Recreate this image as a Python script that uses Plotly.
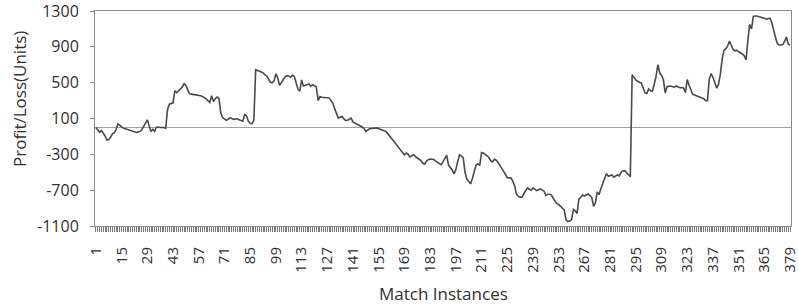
import plotly.graph_objects as go

# Profit/Loss (units) per match instance
profit_loss = [
    0, -30, -55, -35, -60, -95, -140, -135, -110, -70,
    -60, -20, 40, 20, 5, -10, -15, -22, -25, -35,
    -40, -50, -55, -50, -45, -25, 10, 60, 85, 15,
    -45, -20, -45, 5, 0, 0, 0, 0, -10, 200,
    260, 265, 275, 410, 390, 410, 430, 450, 490, 470,
    420, 375, 372, 368, 370, 362, 360, 355, 345, 335,
    320, 300, 280, 355, 290, 320, 340, 325, 160, 110,
    95, 80, 90, 108, 100, 90, 95, 97, 85, 78,
    70, 145, 130, 70, 45, 42, 80, 645, 640, 628,
    620, 610, 590, 575, 540, 505, 498, 520, 600, 555,
    470, 505, 540, 565, 578, 575, 560, 582, 570, 510,
    430, 405, 530, 462, 468, 478, 485, 460, 478, 465,
    455, 300, 345, 338, 335, 340, 335, 330, 300, 272,
    210, 160, 105, 115, 125, 95, 78, 80, 90, 105,
    60, 45, 38, 28, 20, 5, -10, -45, -30, -15,
    -12, -8, -10, -5, -15, -20, -32, -38, -45, -70,
    -95, -120, -140, -170, -200, -230, -255, -285, -305, -285,
    -300, -330, -315, -305, -325, -345, -355, -370, -400, -410,
    -375, -360, -352, -355, -358, -375, -390, -405, -415, -385,
    -350, -310, -420, -450, -475, -520, -470, -380, -305, -320,
    -340, -500, -580, -600, -630, -570, -500, -420, -405, -425,
    -280, -285, -300, -318, -335, -370, -385, -355, -365, -390,
    -420, -450, -490, -525, -560, -565, -562, -600, -650, -745,
    -770, -778, -780, -740, -710, -675, -690, -700, -675, -690,
    -705, -695, -686, -700, -710, -760, -745, -745, -752, -790,
    -820, -850, -860, -882, -900, -920, -1030, -1050, -1045, -1030,
    -915, -930, -960, -800, -780, -755, -765, -750, -742, -760,
    -780, -880, -840, -720, -750, -680, -620, -560, -515, -545,
    -535, -530, -555, -540, -530, -540, -500, -485, -482, -505,
    -530, -550, 590, 555, 530, 515, 505, 495, 440, 385,
    378, 430, 410, 405, 480, 570, 700, 610, 580, 535,
    385, 455, 460, 462, 455, 450, 463, 455, 444, 445,
    440, 390, 535, 470, 420, 370, 362, 355, 345, 332,
    330, 320, 300, 300, 540, 600, 560, 490, 440, 480,
    590, 760, 860, 880, 910, 965, 925, 870, 855, 862,
    845, 835, 820, 800, 755, 970, 1150, 1100, 1240, 1245,
    1245, 1236, 1232, 1227, 1220, 1208, 1215, 1219, 1175, 1080,
    1010, 940, 922, 920, 925, 960, 1010, 930, 920,
]
match_instances = list(range(1, len(profit_loss) + 1))
x_tick_labels = [str(c) if (c - 1) % 14 == 0 else "" for c in match_instances]
y_ticks = [-1100, -700, -300, 100, 500, 900, 1300]

fig = go.Figure()
fig.add_trace(go.Scatter(
    x=match_instances, y=profit_loss, mode="lines",
    line=dict(color="#4a4a4a", width=1.6), hoverinfo="skip",
))

font_family = "Open Sans, DejaVu Sans, sans-serif"
fig.update_layout(
    width=798, height=305,
    margin=dict(l=95, r=7, t=11, b=79),
    paper_bgcolor="white", plot_bgcolor="white",
    showlegend=False,
    font=dict(family=font_family, color="#303030"),
)
fig.update_xaxes(
    range=[0.5, len(profit_loss) + 0.5],
    tickmode="array", tickvals=match_instances, ticktext=x_tick_labels,
    tickangle=-90, tickfont=dict(size=15, color="#303030"),
    ticks="outside", ticklen=5, tickwidth=1, tickcolor="#7a7a7a",
    ticklabelstandoff=9, ticklabeloverflow="allow",
    showline=True, linecolor="#8a8a8a", linewidth=1, mirror=True,
    showgrid=False, zeroline=False, automargin=False,
)
fig.update_yaxes(
    range=[-1100, 1300],
    tickmode="array", tickvals=y_ticks, ticktext=[str(v) for v in y_ticks],
    tickfont=dict(size=16, color="#303030"),
    ticks="outside", ticklen=4, tickwidth=1, tickcolor="#8a8a8a",
    ticklabelstandoff=8, ticklabeloverflow="allow",
    showline=True, linecolor="#8a8a8a", linewidth=1, mirror=True,
    showgrid=False, zeroline=True, zerolinecolor="#a0a0a0", zerolinewidth=1,
    automargin=False,
)
fig.add_annotation(
    text="Profit/Loss(Units)", textangle=-90,
    xref="paper", yref="paper", x=(19 - 95) / 696, y=(226 - 99) / 215,
    xanchor="center", yanchor="middle", showarrow=False,
    font=dict(size=17, color="#303030", family=font_family),
)
fig.add_annotation(
    text="Match Instances",
    xref="paper", yref="paper", x=0.5, y=-(293 - 226) / 215,
    xanchor="center", yanchor="middle", showarrow=False,
    font=dict(size=17, color="#303030", family=font_family),
)

fig.write_html("out.html", config={"displayModeBar": False},
               post_script="document.body.style.margin='0';")
